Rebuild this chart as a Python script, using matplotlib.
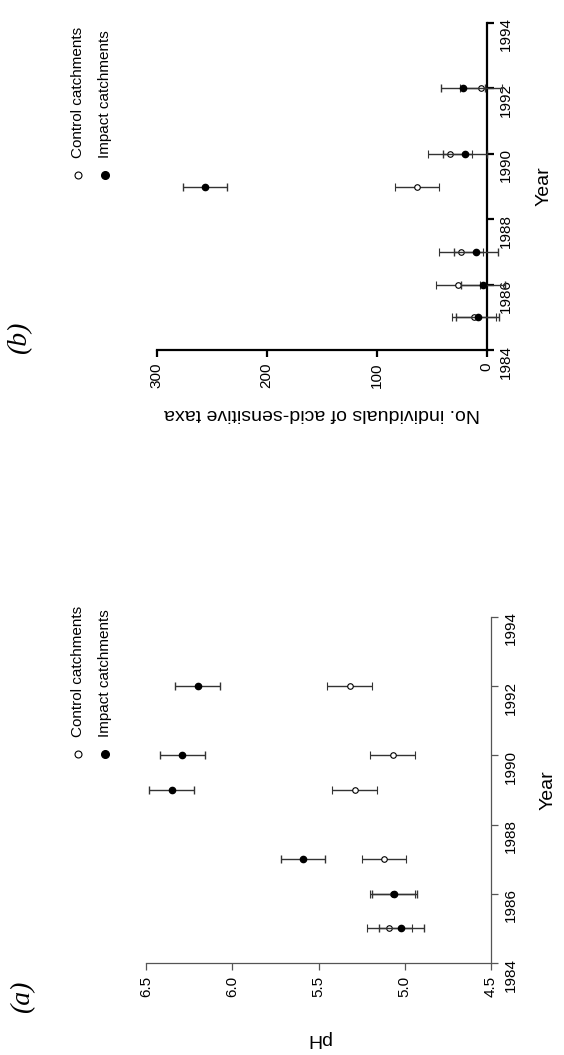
import matplotlib
matplotlib.use("Agg")
import matplotlib.pyplot as plt

plt.rcParams['font.family'] = ['Liberation Sans', 'DejaVu Sans']

# panel (a): mean stream pH
years_a = [1985, 1986, 1987, 1989, 1990, 1992]
ph_control = [5.09, 5.07, 5.12, 5.29, 5.07, 5.32]
ph_control_se = [0.13, 0.13, 0.13, 0.13, 0.13, 0.13]
ph_impact = [5.02, 5.06, 5.59, 6.35, 6.29, 6.20]
ph_impact_se = [0.13, 0.13, 0.13, 0.13, 0.13, 0.13]

# panel (b): acid-sensitive taxa
years_b = [1985, 1986, 1987, 1989, 1990, 1992]
taxa_control = [11.5, 25.8, 23.6, 63, 33, 5.5]
taxa_control_se = [20, 20, 20, 20, 20, 19]
taxa_impact = [8.2, 3, 10, 256.5, 19.7, 21.2]
taxa_impact_se = [19.5, 20, 20, 20, 20, 20]

year_ticks = [1984, 1986, 1988, 1990, 1992, 1994]
ph_ticks = [4.5, 5.0, 5.5, 6.0, 6.5]
taxa_ticks = [0, 100, 200, 300]


def draw_panel(ax, years, ctrl, ctrl_se, imp, imp_se, lims, ticks, tick_fmt,
               label, spine_col, spine_w, xpad):
    ax.errorbar(ctrl, years, xerr=ctrl_se, fmt='o', mfc='white', mec='black',
                ms=4, mew=0.8, ecolor='#333333', elinewidth=1, capsize=3,
                capthick=1, clip_on=False, zorder=3)
    ax.errorbar(imp, years, xerr=imp_se, fmt='o', mfc='black', mec='black',
                ms=4.5, ecolor='#333333', elinewidth=1, capsize=3,
                capthick=1, clip_on=False, zorder=4)
    ax.set_xlim(lims)
    ax.set_ylim(1984, 1994)
    ax.set_xticks(ticks)
    ax.set_xticklabels([tick_fmt(t) for t in ticks])
    ax.set_yticks(year_ticks)
    for s in ['left', 'top']:
        ax.spines[s].set_visible(False)
    for s in ['right', 'bottom']:
        ax.spines[s].set_color(spine_col)
        ax.spines[s].set_linewidth(spine_w)
    ax.yaxis.tick_right()
    ax.yaxis.set_label_position('right')
    ax.tick_params(axis='both', labelsize=11, length=5, width=spine_w,
                   color=spine_col, labelrotation=90, pad=4)
    ax.set_xlabel(label, rotation=180, fontsize=14, labelpad=xpad)
    ax.set_ylabel('Year', rotation=90, fontsize=14, labelpad=16)


def draw_legend(fig, x0, y0):
    fig.lines.append(plt.Line2D([x0], [y0], marker='o', mfc='white', mec='black',
                                ms=5, mew=0.8, transform=fig.transFigure))
    fig.lines.append(plt.Line2D([x0 + 0.048], [y0], marker='o', mfc='black',
                                mec='black', ms=5.5, transform=fig.transFigure))
    fig.text(x0, y0 + 0.016, 'Control catchments', rotation=90, fontsize=11,
             ha='center', va='bottom')
    fig.text(x0 + 0.048, y0 + 0.016, 'Impact catchments', rotation=90,
             fontsize=11, ha='center', va='bottom')


fig = plt.figure(figsize=(5.64, 10.55), dpi=100)

ax_a = fig.add_axes([0.2589, 0.0872, 0.6117, 0.328])
draw_panel(ax_a, years_a, ph_control, ph_control_se, ph_impact, ph_impact_se,
           (6.5, 4.5), ph_ticks, lambda t: f"{t:.1f}", 'pH', '#555555', 0.9, 24)

ax_b = fig.add_axes([0.2778, 0.6682, 0.5851, 0.31])
draw_panel(ax_b, years_b, taxa_control, taxa_control_se, taxa_impact,
           taxa_impact_se, (300, 0), taxa_ticks, lambda t: f"{t}",
           'No. individuals of acid-sensitive taxa', 'black', 1.6, 12)

draw_legend(fig, 0.138, 0.285)
draw_legend(fig, 0.138, 0.834)

fig.text(0.04, 0.055, '(a)', rotation=90, fontsize=20, family='Liberation Serif',
         style='italic', ha='center', va='center')
fig.text(0.035, 0.68, '(b)', rotation=90, fontsize=20, family='Liberation Serif',
         style='italic', ha='center', va='center')

fig.savefig('out.png', dpi=100)
